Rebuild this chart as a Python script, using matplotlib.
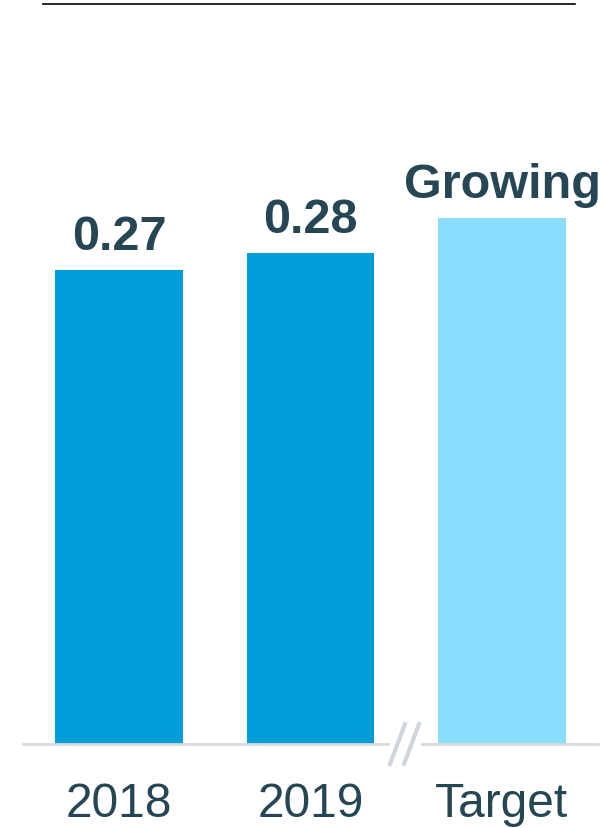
import matplotlib
matplotlib.use("Agg")
import matplotlib.pyplot as plt
from matplotlib.lines import Line2D
from matplotlib.patches import Rectangle

plt.rcParams['font.family'] = ['Liberation Sans', 'DejaVu Sans']

categories = ['2018', '2019', 'Target']
values = [0.27, 0.28, 0.30]
labels = ['0.27', '0.28', 'Growing']
colors = ['#009dd9', '#009dd9', '#8addfd']
text_color = '#264653'

W, H = 606, 829
fig = plt.figure(figsize=(W / 100, H / 100), dpi=100)
ax = fig.add_axes([23.25 / W, (H - 745) / H, 574.5 / W, 725 / H])

x = range(len(categories))
ax.bar(x, values, width=0.668, color=colors, zorder=2)
ax.set_xlim(-0.5, 2.5)
ax.set_ylim(0, 725 / 1755)

for xi, v, lab in zip(x, values, labels):
    ax.annotate(lab, (xi, v), xytext=(0, 15), textcoords='offset points',
                ha='center', va='baseline', fontsize=35, fontweight='bold',
                color=text_color)

ax.set_xticks(list(x))
ax.set_xticklabels(categories, fontsize=34.5, color=text_color)
ax.tick_params(axis='x', length=0, pad=27)
ax.set_yticks([])
for s in ['top', 'right', 'left']:
    ax.spines[s].set_visible(False)
ax.spines['bottom'].set_color('#d9d9d9')
ax.spines['bottom'].set_linewidth(2)

# axis break
def px(xp, yp):
    return (xp / W, 1 - yp / H)

x0, y0 = px(390, 740)
x1, y1 = px(421, 752)
fig.patches.append(Rectangle((x0, y1), x1 - x0, y0 - y1, transform=fig.transFigure,
                             facecolor='white', edgecolor='none', zorder=5))
for (xa, ya), (xb, yb) in [((390, 765), (405, 725)), ((404, 765), (419, 725))]:
    p, q = px(xa, ya), px(xb, yb)
    fig.add_artist(Line2D([p[0], q[0]], [p[1], q[1]], transform=fig.transFigure,
                          color='#cfd5da', lw=3, zorder=6))

# top rule
a, b = px(43, 5), px(575, 5)
fig.add_artist(Line2D([a[0], b[0]], [a[1], b[1]], transform=fig.transFigure,
                      color='black', lw=1.2))

fig.savefig('out.png', dpi=100)
